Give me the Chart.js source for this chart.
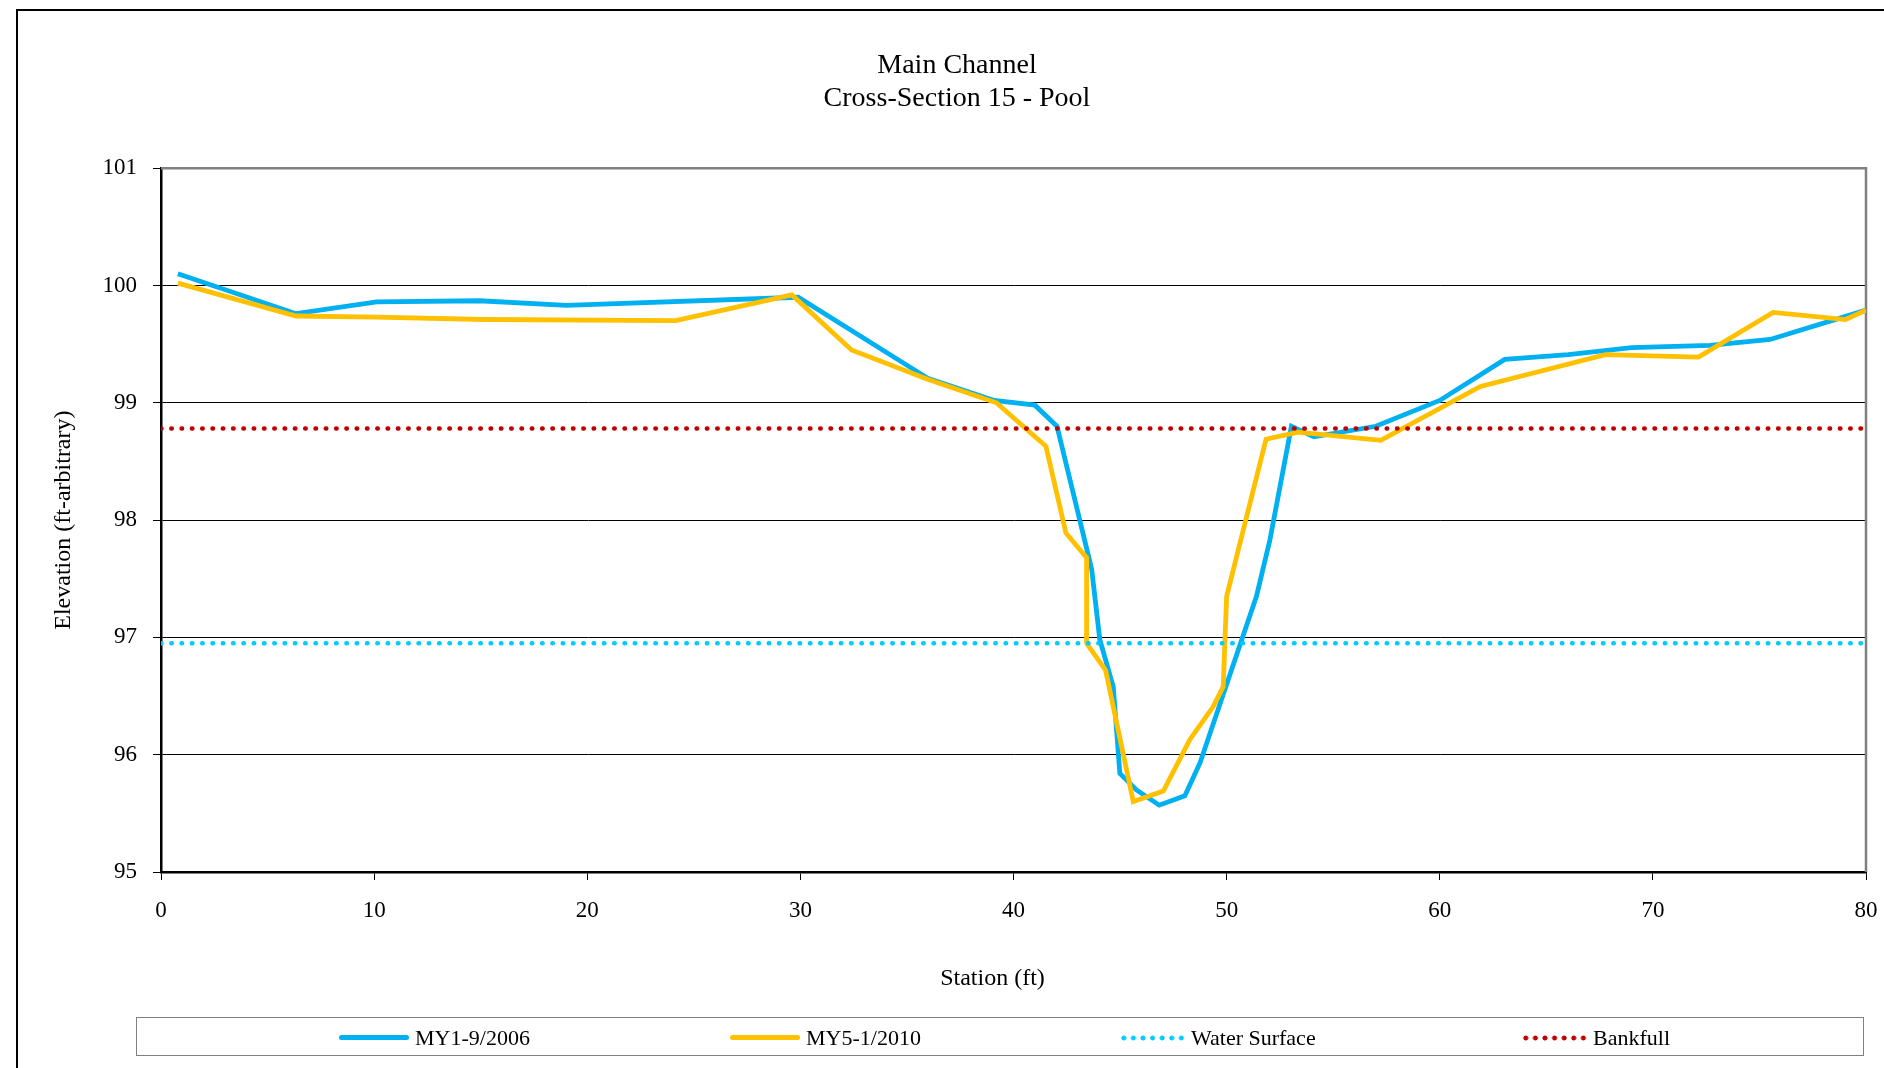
<!DOCTYPE html>
<html>
<head>
<meta charset="utf-8">
<script src="https://cdn.jsdelivr.net/npm/chart.js@4/dist/chart.umd.min.js"></script>
<style>
  html, body { margin: 0; padding: 0; background: #fff; overflow: hidden; }
  #wrap { position: relative; width: 1884px; height: 1068px; }
  #frame { position: absolute; left: 16px; top: 9px; width: 1900px; height: 1100px; border: 2px solid #000; box-sizing: border-box; }
  #chart { position: absolute; left: 0; top: 0; }
  #legend { position: absolute; left: 136px; top: 1017px; width: 1728px; height: 39px; border: 1px solid #808080; box-sizing: border-box; font-family: 'Liberation Serif', serif; font-size: 22px; color: #000; }
  .item { position: absolute; top: 1px; height: 37px; display: flex; align-items: center; white-space: nowrap; }
  .sample { display: inline-block; margin-right: 6px; }
</style>
</head>
<body>
<div id="wrap">
  <div id="frame"></div>
  <canvas id="chart" width="1884" height="1068"></canvas>
  <div id="legend"></div>
</div>
<script>
let blueX=[0.79, 6.34, 10.12, 14.94, 19.02, 29.9, 35.97, 39.1, 41.0, 42.04, 43.67, 44.05, 44.68, 44.99, 45.77, 46.84, 48.04, 48.75, 51.4, 52.03, 53.04, 54.09, 57.0, 60.0, 63.05, 66.03, 69.0, 72.67, 75.5, 80.0];
let blueY=[100.10, 99.76, 99.86, 99.87, 99.83, 99.90, 99.21, 99.02, 98.98, 98.80, 97.58, 96.98, 96.58, 95.84, 95.70, 95.57, 95.65, 95.93, 97.35, 97.83, 98.80, 98.71, 98.80, 99.02, 99.37, 99.41, 99.47, 99.49, 99.54, 99.79];
let yellowX=[0.79, 6.34, 10.1, 15.2, 24.15, 29.6, 32.4, 35.97, 39.2, 41.52, 42.46, 43.43, 43.43, 44.32, 45.62, 47.03, 48.28, 49.37, 49.84, 50.0, 51.85, 53.35, 57.23, 61.91, 67.77, 72.14, 75.64, 79.04, 80.0];
let yellowY=[100.02, 99.74, 99.73, 99.71, 99.70, 99.92, 99.45, 99.20, 99.00, 98.63, 97.89, 97.68, 96.95, 96.72, 95.60, 95.69, 96.13, 96.41, 96.58, 97.35, 98.69, 98.75, 98.68, 99.14, 99.41, 99.39, 99.77, 99.71, 99.79];
let waterX=[0, 80];
let waterY=[96.95, 96.95];
let bankX=[0, 80];
let bankY=[98.78, 98.78];
let seriesNames=['MY1-9/2006', 'MY5-1/2010', 'Water Surface', 'Bankfull'];
let titleLines=['Main Channel', 'Cross-Section 15 - Pool'];
let xTitle='Station (ft)';

function pts(xs, ys){
  let out=[];
  for(let i=0;i<xs.length;i++){ out.push({x: xs[i], y: ys[i]}); }
  return out;
}

Chart.defaults.font.family="'Liberation Serif', serif";
Chart.defaults.color='#000';

// gray top and right edge of the plot area, and the x axis title (sits a bit left of centre)
let plotBorder={
  id: 'plotBorder',
  beforeDatasetsDraw(chart){
    let a=chart.chartArea, c=chart.ctx;
    c.save();
    c.strokeStyle='#808080';
    c.lineWidth=2.5;
    c.beginPath();
    c.moveTo(a.left, a.top);
    c.lineTo(a.right, a.top);
    c.lineTo(a.right, a.bottom);
    c.stroke();
    c.restore();
  },
  afterDraw(chart){
    let a=chart.chartArea, c=chart.ctx;
    c.save();
    c.font="24px 'Liberation Serif', serif";
    c.fillStyle='#000';
    c.textAlign='center';
    c.textBaseline='middle';
    c.fillText(xTitle, (a.left+a.right)/2-21, a.bottom+107);
    c.restore();
  }
};

let ctx=document.getElementById('chart').getContext('2d');
let myChart=new Chart(ctx, {
  type: 'scatter',
  data: {
    datasets: [{
      label: seriesNames[0],
      data: pts(blueX, blueY),
      showLine: true,
      borderColor: '#00B0F0',
      borderWidth: 4.8,
      pointRadius: 0,
      order: 3
    }, {
      label: seriesNames[1],
      data: pts(yellowX, yellowY),
      showLine: true,
      borderColor: '#FFC000',
      borderWidth: 4.8,
      pointRadius: 0,
      order: 2
    }, {
      label: seriesNames[2],
      data: pts(waterX, waterY),
      showLine: true,
      borderColor: '#00CCFF',
      borderWidth: 4.5,
      borderDash: [0.5, 9.8],
      borderCapStyle: 'round',
      pointRadius: 0,
      order: 1
    }, {
      label: seriesNames[3],
      data: pts(bankX, bankY),
      showLine: true,
      borderColor: '#C00000',
      borderWidth: 4.5,
      borderDash: [0.5, 9.8],
      borderCapStyle: 'round',
      pointRadius: 0,
      order: 0
    }]
  },
  options: {
    responsive: false,
    animation: false,
    layout: { padding: { left: 48, right: 18, top: 10, bottom: 60 } },
    plugins: {
      legend: { display: false },
      tooltip: { enabled: false },
      title: {
        display: true,
        text: titleLines,
        font: { size: 28, weight: 'normal', lineHeight: 1.2 },
        padding: { top: 38.4, bottom: 52.6 }
      }
    },
    scales: {
      x: {
        type: 'linear',
        min: 0,
        max: 80,
        ticks: { stepSize: 10, padding: 17, font: { size: 23 } },
        grid: { drawOnChartArea: false, drawTicks: true, tickLength: 8, tickColor: '#000', tickWidth: 1 },
        border: { display: true, color: '#000', width: 2.5 },
        title: { display: false },
        afterFit: (s)=> { s.height=136; s.paddingLeft=0; s.paddingRight=0; }
      },
      y: {
        min: 95,
        max: 101,
        ticks: { stepSize: 1, padding: 16, font: { size: 23 } },
        grid: { color: '#000', lineWidth: 1, drawTicks: true, tickLength: 8, tickColor: '#000' },
        border: { display: true, color: '#000', width: 2.5 },
        title: { display: true, text: 'Elevation (ft-arbitrary)', font: { size: 24 }, padding: { top: 1, bottom: 0 } },
        afterFit: (s)=> { s.width=113; }
      }
    }
  },
  plugins: [plotBorder]
});

// legend built from the chart's datasets
let legendLeft=[202, 593, 982, 1384];
let legend=document.getElementById('legend');
myChart.data.datasets.forEach((ds, i)=> {
  let item=document.createElement('div');
  item.className='item';
  item.style.left=legendLeft[i]+'px';
  let sample=document.createElement('span');
  sample.className='sample';
  if(ds.borderDash){
    sample.style.width='66px';
    sample.style.height='6px';
    sample.style.background='radial-gradient(circle, '+ds.borderColor+' 2.2px, transparent 2.8px) 0 0 / 9.6px 6px repeat-x';
  } else {
    sample.style.width='70px';
    sample.style.height='5px';
    sample.style.borderRadius='3px';
    sample.style.background=ds.borderColor;
  }
  let label=document.createElement('span');
  label.textContent=ds.label;
  item.appendChild(sample);
  item.appendChild(label);
  legend.appendChild(item);
});
</script>
</body>
</html>
